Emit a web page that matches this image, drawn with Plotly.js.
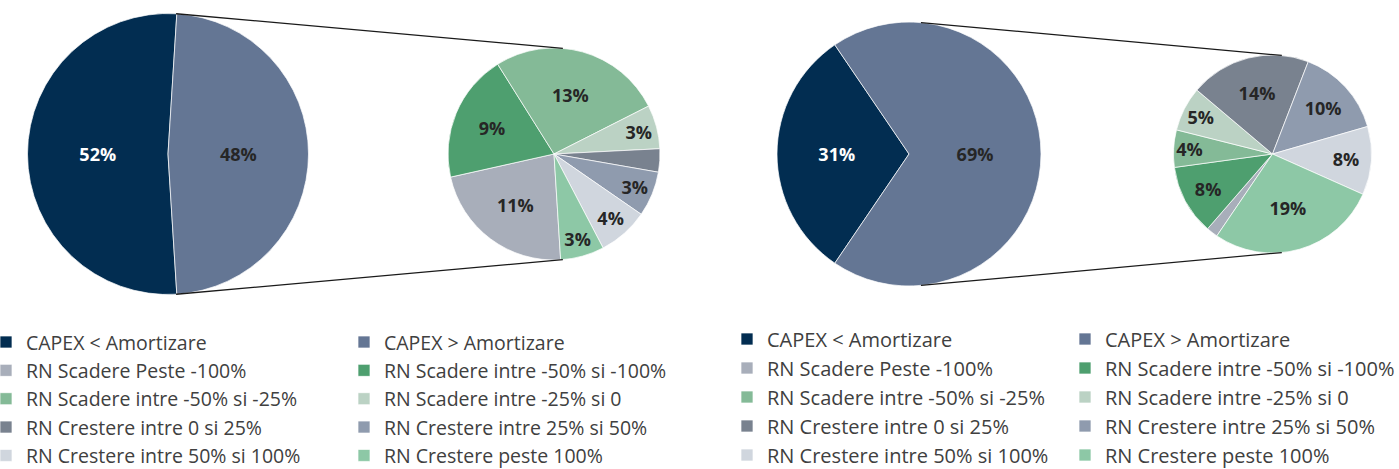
<!DOCTYPE html>
<html><head><meta charset="utf-8">
<script src="https://cdn.plot.ly/plotly-3.0.1.min.js"></script>
<style>
html,body{margin:0;padding:0;background:#fff;width:1399px;height:469px;overflow:hidden}
#wrap{position:relative;width:1399px;height:469px;overflow:hidden}
.chart{position:absolute;top:0;height:500px}
#left{left:-14px;width:722px}
#right{left:727px;width:700px}
</style>
</head><body><div id="wrap"><div id="left" class="chart"></div><div id="right" class="chart"></div></div>
<script>
// ---- data ----
const capexLabels = ['CAPEX < Amortizare', 'CAPEX > Amortizare'];
const capexColors = ['#022D51', '#647694'];
const rnLabels = [
  'RN Scadere Peste -100%', 'RN Scadere intre -50% si -100%',
  'RN Scadere intre -50% si -25%', 'RN Scadere intre -25% si 0',
  'RN Crestere intre 0 si 25%', 'RN Crestere intre 25% si 50%',
  'RN Crestere intre 50% si 100%', 'RN Crestere peste 100%'
];
const rnColors = ['#A8AEBA', '#4E9F6F', '#84BA97', '#BBD2C4', '#79828F', '#8F9BAE', '#D0D6DE', '#8DC8A6'];
// values as % of total
const leftCapex = [52, 48];
const leftRN = [10.8, 9.4, 12.7, 3.2, 1.7, 3.3, 3.7, 3.2];
const rightCapex = [31, 69];
const rightRN = [1.3, 7.9, 4.2, 5.0, 13.6, 10.1, 7.7, 19.2];

// ---- helpers ----
const fontFam = 'Open Sans, Noto Sans, sans-serif';
const darkTxt = '#262626';
const DIV_H = 500;

function labelText(vals) { return vals.map(v => v >= 2 ? Math.round(v) + '%' : ''); }
function startAngle(capex) { // the "other" slice is centred at 3 o'clock
  const total = capex.reduce((a, b) => a + b, 0);
  return 90 + capex[1] / total * 180;
}

function makeChart(divId, cfg) {
  const W = cfg.divW, x0 = cfg.divLeft;
  function domainFor(g) {
    return { x: [(g.cx - g.r - x0) / W, (g.cx + g.r - x0) / W],
             y: [1 - (g.cy + g.r) / DIV_H, 1 - (g.cy - g.r) / DIV_H] };
  }
  function pieTrace(labels, values, colors, g, rot, textColors) {
    return {
      type: 'pie', labels: labels, values: values, sort: false, direction: 'clockwise',
      rotation: rot, domain: domainFor(g),
      marker: { colors: colors, line: { color: '#ffffff', width: 0.7 } },
      text: labelText(values), textinfo: 'text', textposition: 'inside',
      insidetextorientation: 'horizontal',
      textfont: { family: fontFam, size: 18, weight: 700, color: textColors },
      hoverinfo: 'label+value'
    };
  }
  const rot = startAngle(cfg.capex);
  const traces = [
    pieTrace(capexLabels, cfg.capex, capexColors, cfg.big, rot, ['#ffffff', darkTxt]),
    pieTrace(rnLabels, cfg.rn, rnColors, cfg.small, rot, rnLabels.map(() => darkTxt))
  ];
  function pt(g, deg) {
    const a = deg * Math.PI / 180;
    return [g.cx + g.r * Math.sin(a), g.cy - g.r * Math.cos(a)];
  }
  const shapes = [[cfg.aBig, cfg.aSmall], [180 - cfg.aBig, 180 - cfg.aSmall]].map(([a1, a2]) => {
    const p1 = pt(cfg.big, a1), p2 = pt(cfg.small, a2);
    return { type: 'line', xref: 'paper', yref: 'paper',
      x0: (p1[0] - x0) / W, y0: 1 - p1[1] / DIV_H, x1: (p2[0] - x0) / W, y1: 1 - p2[1] / DIV_H,
      line: { color: '#1a1a1a', width: 1.3 } };
  });
  const fs = cfg.legendFont;
  const itemH = 1.3 * fs + 3;
  const legendTop = cfg.firstRowY - itemH / 2 - 5;
  const layout = {
    width: W, height: DIV_H, margin: { l: 0, r: 0, t: 0, b: 0, autoexpand: false },
    paper_bgcolor: 'rgba(0,0,0,0)', plot_bgcolor: 'rgba(0,0,0,0)',
    showlegend: true,
    legend: {
      orientation: 'h', entrywidthmode: 'pixels', entrywidth: cfg.entryW, traceorder: 'normal',
      x: 0, xanchor: 'left', y: 1 - legendTop / DIV_H, yanchor: 'top', maxheight: 1,
      font: { family: fontFam, size: fs, color: '#404040' }, bgcolor: 'rgba(0,0,0,0)', borderwidth: 0
    },
    uniformtext: { mode: 'show', minsize: 18 },
    shapes: shapes
  };
  Plotly.newPlot(divId, traces, layout, { displayModeBar: false, responsive: false });
}

makeChart('left', {
  divLeft: -14, divW: 722, capex: leftCapex, rn: leftRN,
  big: { cx: 168, cy: 154, r: 140.5 }, small: { cx: 554, cy: 154, r: 106 },
  aBig: 3.3, aSmall: 4.8, entryW: 313, legendFont: 19.5, firstRowY: 342
});
makeChart('right', {
  divLeft: 727, divW: 700, capex: rightCapex, rn: rightRN,
  big: { cx: 909, cy: 154, r: 132 }, small: { cx: 1272.5, cy: 154, r: 99 },
  aBig: 5.2, aSmall: 5.4, entryW: 293, legendFont: 20, firstRowY: 339
});
</script>
</body></html>
